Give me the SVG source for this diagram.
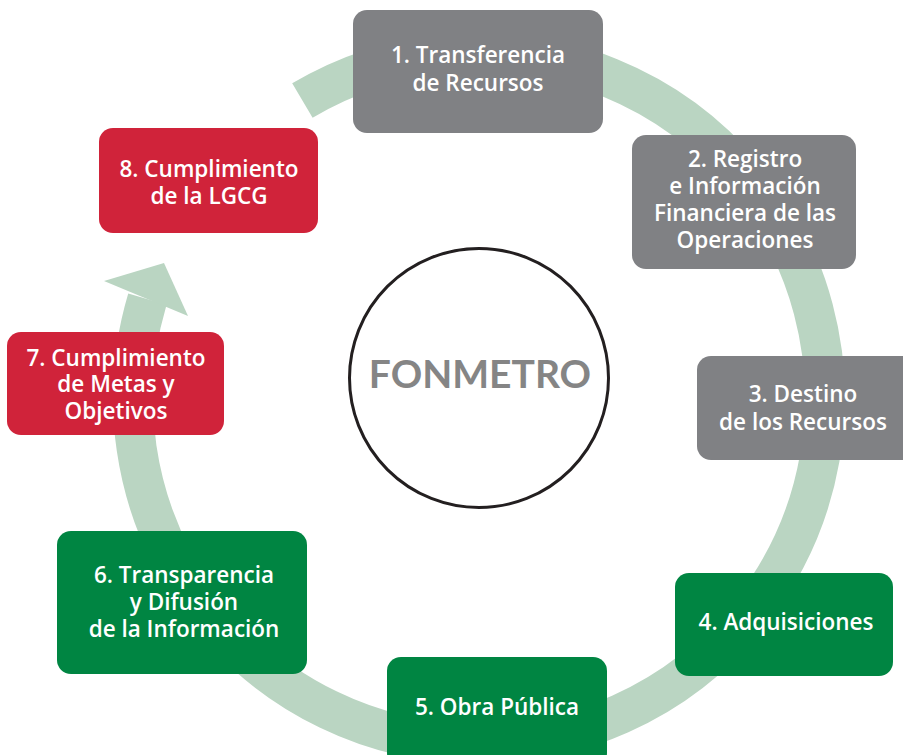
<svg xmlns="http://www.w3.org/2000/svg" width="903" height="755" viewBox="0 0 903 755">
<style>
.box-gray{fill:#808184}
.box-green{fill:#008542}
.box-red{fill:#d0233a}
.t{font-family:"Open Sans","Noto Sans","DejaVu Sans",sans-serif;font-size:22.5px;font-weight:600;fill:#ffffff;text-anchor:middle;font-variant-ligatures:none}
.ring{fill:none;stroke:#bad5c2;stroke-width:40}
.head{fill:#bad5c2}
</style>
<rect width="903" height="755" fill="#ffffff"/>
<g id="connectors">
<path class="ring" d="M 302.4 100.5 A 346 346 0 1 1 147.4 299.1"/>
<polygon class="head" points="104,281 164,263 188,316"/>
</g>
<g id="center">
<circle cx="479" cy="378" r="129.5" fill="#ffffff" stroke="#231f20" stroke-width="3"/>
<text x="480" y="388" style="font-family:'Lato','Open Sans',sans-serif;font-size:39px;font-weight:700;fill:#858585;text-anchor:middle">FONMETRO</text>
</g>
<g id="n1">
<rect class="box-gray" x="353" y="10" width="250" height="123" rx="14"/>
<text class="t" x="478" y="63">1. Transferencia</text>
<text class="t" x="478" y="91">de Recursos</text>
</g>
<g id="n2">
<rect class="box-gray" x="632" y="135" width="224" height="134" rx="14"/>
<text class="t" x="745" y="167">2. Registro</text>
<text class="t" x="745" y="194">e Información</text>
<text class="t" x="745" y="221">Financiera de las</text>
<text class="t" x="745" y="248">Operaciones</text>
</g>
<g id="n3">
<rect class="box-gray" x="697" y="356" width="222" height="104" rx="14"/>
<text class="t" x="803" y="402">3. Destino</text>
<text class="t" x="803" y="430">de los Recursos</text>
</g>
<g id="n4">
<rect class="box-green" x="675" y="573" width="218" height="103" rx="14"/>
<text class="t" x="786" y="630">4. Adquisiciones</text>
</g>
<g id="n5">
<rect class="box-green" x="387" y="657" width="220" height="110" rx="14"/>
<text class="t" x="497" y="715">5. Obra Pública</text>
</g>
<g id="n6">
<rect class="box-green" x="57" y="531" width="250" height="143" rx="14"/>
<text class="t" x="184" y="583">6. Transparencia</text>
<text class="t" x="184" y="610">y Difusión</text>
<text class="t" x="184" y="637">de la Información</text>
</g>
<g id="n7">
<rect class="box-red" x="7" y="332" width="217" height="103" rx="14"/>
<text class="t" x="116" y="366">7. Cumplimiento</text>
<text class="t" x="116" y="392">de Metas y</text>
<text class="t" x="116" y="419">Objetivos</text>
</g>
<g id="n8">
<rect class="box-red" x="99" y="128" width="219" height="105" rx="14"/>
<text class="t" x="209" y="177">8. Cumplimiento</text>
<text class="t" x="209" y="204">de la LGCG</text>
</g>
</svg>
